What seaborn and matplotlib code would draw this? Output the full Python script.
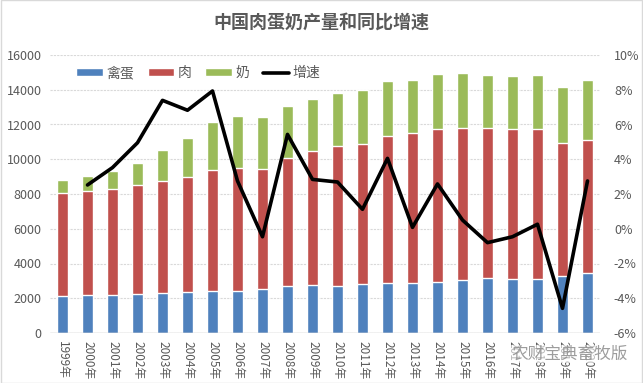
import numpy as np
import pandas as pd
import matplotlib
matplotlib.use("Agg")
import matplotlib.pyplot as plt
import seaborn as sns
from matplotlib.patches import Patch, Rectangle
from matplotlib.lines import Line2D
from matplotlib.ticker import FixedLocator, FuncFormatter

years = [f"{y}年" for y in range(1999, 2021)]
egg = [2150, 2190, 2190, 2245, 2300, 2360, 2400, 2400, 2515, 2720, 2760,
       2720, 2800, 2860, 2860, 2955, 3070, 3185, 3110, 3110, 3300, 3450]
meat = [5890, 5980, 6100, 6270, 6450, 6620, 6980, 7100, 6920, 7350, 7715,
        8040, 8080, 8480, 8650, 8785, 8730, 8615, 8630, 8630, 7635, 7660]
milk = [770, 865, 1035, 1265, 1785, 2245, 2765, 2990, 2995, 2995, 2995,
        3050, 3125, 3165, 3050, 3165, 3165, 3050, 3050, 3110, 3225, 3455]
growth = [None, 2.52, 3.52, 4.95, 7.39, 6.82, 7.93, 2.75, -0.46, 5.43, 2.84,
          2.69, 1.12, 4.05, 0.08, 2.58, 0.50, -0.80, -0.46, 0.26, -4.58, 2.75]

df = pd.DataFrame({"year": years, "egg": egg, "meat": meat, "milk": milk,
                   "growth": growth})
df["meat_cum"] = df["egg"] + df["meat"]
df["total"] = df["meat_cum"] + df["milk"]
df["pos"] = np.arange(len(df))

sns.set_theme(style="white")
plt.rcParams["font.family"] = ["Noto Sans CJK SC", "DejaVu Sans"]

c_egg, c_meat, c_milk = "#4F81BD", "#C0504D", "#9BBB59"
txt = "#595959"

fig = plt.figure(figsize=(6.43, 3.83), dpi=100)
ax = fig.add_axes([50 / 643, 1 - 333 / 383, 550 / 643, 278 / 383])

bw = 0.41
sns.barplot(data=df, x="year", y="total", color=c_milk, width=bw, ax=ax,
            saturation=1, order=years)
sns.barplot(data=df, x="year", y="meat_cum", color=c_meat, width=bw, ax=ax,
            saturation=1, order=years)
sns.barplot(data=df, x="year", y="egg", color=c_egg, width=bw, ax=ax,
            saturation=1, order=years)

ax.set_ylim(0, 16000)
ax.set_xlim(-0.5, len(years) - 0.5)
ax.yaxis.set_major_locator(FixedLocator(np.arange(0, 16001, 2000)))
ax.grid(axis="y", color="#d9d9d9", linewidth=0.8, linestyle=(0, (2, 1)))
ax.set_axisbelow(True)
for s in ax.spines.values():
    s.set_visible(False)
ax.axhline(0, color="#bfbfbf", linewidth=1)
ax.set_xlabel("")
ax.set_ylabel("")
ax.tick_params(axis="y", labelsize=9, labelcolor=txt, length=0, pad=6)
ax.tick_params(axis="x", labelsize=8.5, labelcolor=txt, length=0, pad=6,
               rotation=-90)
for lab in ax.get_xticklabels():
    lab.set_verticalalignment("top")

ax2 = ax.twinx()
gd = df.dropna(subset=["growth"])
sns.lineplot(data=gd, x="pos", y="growth", color="black", linewidth=2.6,
             ax=ax2)
ax2.set_ylim(-6, 10)
ax2.yaxis.set_major_locator(FixedLocator(np.arange(-6, 11, 2)))
ax2.yaxis.set_major_formatter(FuncFormatter(lambda v, p: f"{v:.0f}%"))
ax2.tick_params(axis="y", labelsize=9, labelcolor=txt, length=0, pad=10)
ax2.set_ylabel("")
ax2.set_xlabel("")
ax2.grid(False)
for s in ax2.spines.values():
    s.set_visible(False)
ax2.set_xlim(-0.5, len(years) - 0.5)

handles = [Patch(facecolor=c_egg, label="禽蛋"),
           Patch(facecolor=c_meat, label="肉"),
           Patch(facecolor=c_milk, label="奶"),
           Line2D([0], [0], color="black", linewidth=2.6, label="增速")]
leg = ax.legend(handles=handles, ncol=4, frameon=False, fontsize=10,
                loc="upper left", bbox_to_anchor=(0.025, 1.005),
                handlelength=1.9, handleheight=0.45, handletextpad=0.25,
                columnspacing=1.0, labelcolor=txt)

fig.text(0.5, 1 - 22 / 383, "中国肉蛋奶产量和同比增速", ha="center",
         va="center", fontsize=13, fontweight="bold", color=txt)

fig.text(570 / 643, 1 - 354 / 383, "农财宝典畜牧版", ha="center", va="center",
         fontsize=12, color="#8c8c8c", alpha=0.85,
         bbox=dict(facecolor="white", edgecolor="none", alpha=0.6, pad=0.5))

fig.patches.append(Rectangle((0.001, 0.001), 0.998, 0.998,
                             transform=fig.transFigure, fill=False,
                             edgecolor="#d9d9d9", linewidth=1))

fig.savefig("out.png", dpi=100)
